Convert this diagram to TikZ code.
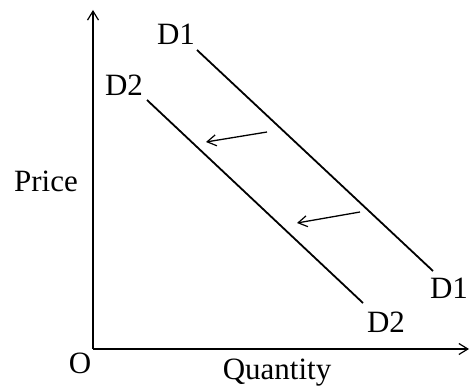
\documentclass[tikz,border=0pt]{standalone}
\usepackage{fontspec}
\setmainfont{Liberation Serif}
\usetikzlibrary{arrows.meta}
\begin{document}
\begin{tikzpicture}[x=1pt,y=-1pt,
  axis/.style={line width=1.4pt,-{Straight Barb[length=9pt,width=11pt,line width=1.2pt]}},
  demand/.style={line width=1.8pt},
  shiftarrow/.style={line width=1.3pt,-{Straight Barb[length=9pt,width=11pt,line width=1.2pt]}},
  lbl/.style={font=\fontsize{31}{36}\selectfont, inner sep=0pt}]
\useasboundingbox (0,0) rectangle (470,387);
% axes
\coordinate (O) at (93,349);
\coordinate (ytop) at (93,10);
\coordinate (xend) at (469,349);
\draw[axis] (O) -- (ytop);
\draw[axis] (O) -- (xend);
% labels
\node[lbl,anchor=base] (olbl) at (80,373) {O};
\node[lbl,anchor=base] (qlbl) at (277,379) {Quantity};
\node[lbl,anchor=base] (plbl) at (46,192) {Price};
\node[lbl] (d1top) at (176,34) {D1};
\node[lbl] (d2top) at (124,85) {D2};
\node[lbl] (d1bot) at (449,288) {D1};
\node[lbl] (d2bot) at (386,322) {D2};
% demand curves
\coordinate (d1s) at (197,50);
\coordinate (d1e) at (433,271);
\coordinate (d2s) at (147,100);
\coordinate (d2e) at (363,303);
\draw[demand] (d1s) -- (d1e);
\draw[demand] (d2s) -- (d2e);
% shift arrows
\coordinate (a1s) at (267,132);
\coordinate (a1e) at (206,142);
\coordinate (a2s) at (360,212);
\coordinate (a2e) at (297,223);
\draw[shiftarrow] (a1s) -- (a1e);
\draw[shiftarrow] (a2s) -- (a2e);
\end{tikzpicture}
\end{document}
